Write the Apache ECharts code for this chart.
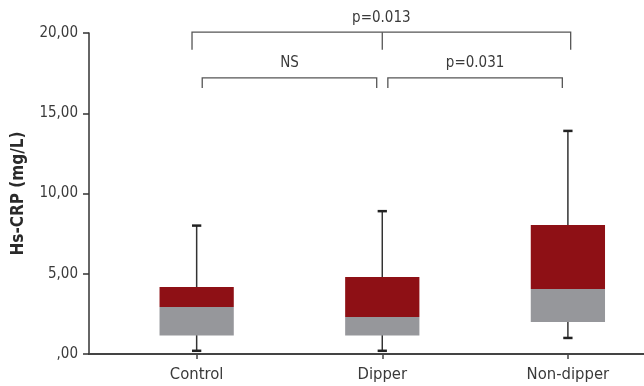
<!DOCTYPE html>
<html>
<head>
<meta charset="utf-8">
<script src="https://cdn.jsdelivr.net/npm/echarts@6/dist/echarts.min.js"></script>
<style>html,body{margin:0;padding:0;background:#fff}#c{width:644px;height:386px}</style>
</head>
<body>
<div id="c"></div>
<script>
var categories = ['Control', 'Dipper', 'Non-dipper'];
var positions = [1, 2, 3];
var whiskerLow = [0.2, 0.2, 1.0];
var q1 = [1.15, 1.15, 2.0];
var median = [2.93, 2.3, 4.05];
var q3 = [4.17, 4.8, 8.03];
var whiskerHigh = [8.0, 8.9, 13.9];
var yTicks = [0, 5, 10, 15, 20];

// significance brackets, in data units
var bracketFrom = [0.975, 1.03, 2.03];
var bracketTo = [3.015, 1.97, 2.97];
var bracketY = [20.05, 17.2, 17.2];
var bracketEnd = [18.95, 16.57, 16.57];
var bracketMid = [2.0, null, null];
var bracketLabel = ['p=0.013', 'NS', 'p=0.031'];
var bracketLabelY = [20.93, 18.13, 18.13];

var FONT = "'DejaVu Sans Condensed', 'DejaVu Sans', sans-serif";
var RED = '#8e1015';
var GRAY = '#96979b';

var boxData = positions.map(function (p, i) {
  return [p, whiskerLow[i], q1[i], median[i], q3[i], whiskerHigh[i]];
});
var bracketData = bracketLabel.map(function (l, i) { return [i]; });

var chart = echarts.init(document.getElementById('c'), null, {renderer: 'canvas'});
chart.setOption({
  animation: false,
  grid: {left: 89, right: 0, top: 33, bottom: 32, outerBoundsMode: 'none', containLabel: false},
  xAxis: {
    type: 'value', min: 0.42, max: 3.41,
    splitLine: {show: false},
    axisLine: {show: true, lineStyle: {color: '#444', width: 2}},
    axisTick: {show: true, customValues: positions, length: 5, lineStyle: {color: '#444', width: 1.5}},
    axisLabel: {
      customValues: positions, margin: 12, color: '#3a3a3a', fontSize: 16.5, fontFamily: FONT,
      formatter: function (v) { return categories[Math.round(v) - 1] || ''; }
    }
  },
  yAxis: {
    type: 'value', min: 0, max: 20, interval: 5,
    name: 'Hs-CRP (mg/L)', nameLocation: 'middle', nameGap: 62,
    nameTextStyle: {fontSize: 17, fontWeight: 'bold', fontFamily: FONT, color: '#2a2a2a'},
    splitLine: {show: false},
    axisLine: {show: true, lineStyle: {color: '#333', width: 1.5}},
    axisTick: {show: true, inside: false, length: 6, lineStyle: {color: '#333', width: 1.5}},
    axisLabel: {
      margin: 11, color: '#3a3a3a', fontSize: 15, fontFamily: FONT,
      formatter: function (v) { return v === 0 ? ',00' : v.toFixed(2).replace('.', ','); }
    }
  },
  series: [
    {
      type: 'custom',
      data: boxData,
      encode: {x: 0, y: [1, 2, 3, 4, 5]},
      renderItem: function (params, api) {
        var x = api.value(0);
        var lo = api.coord([x, api.value(1)]);
        var a = api.coord([x, api.value(2)]);
        var m = api.coord([x, api.value(3)]);
        var b = api.coord([x, api.value(4)]);
        var hi = api.coord([x, api.value(5)]);
        var left = api.coord([x - 0.2, 0])[0];
        var right = api.coord([x + 0.2, 0])[0];
        var capL = api.coord([x - 0.025, 0])[0];
        var capR = api.coord([x + 0.025, 0])[0];
        return {
          type: 'group',
          children: [
            {type: 'line', shape: {x1: lo[0], y1: lo[1], x2: hi[0], y2: hi[1]}, style: {stroke: '#333', lineWidth: 1.5}},
            {type: 'line', shape: {x1: capL, y1: lo[1], x2: capR, y2: lo[1]}, style: {stroke: '#222', lineWidth: 2.5}},
            {type: 'line', shape: {x1: capL, y1: hi[1], x2: capR, y2: hi[1]}, style: {stroke: '#222', lineWidth: 2.5}},
            {type: 'rect', shape: {x: left, y: m[1], width: right - left, height: a[1] - m[1]}, style: {fill: GRAY}},
            {type: 'rect', shape: {x: left, y: b[1], width: right - left, height: m[1] - b[1]}, style: {fill: RED}}
          ]
        };
      }
    },
    {
      type: 'custom',
      clip: false,
      silent: true,
      data: bracketData,
      renderItem: function (params, api) {
        var i = api.value(0);
        var p1 = api.coord([bracketFrom[i], bracketEnd[i]]);
        var p2 = api.coord([bracketFrom[i], bracketY[i]]);
        var p3 = api.coord([bracketTo[i], bracketY[i]]);
        var p4 = api.coord([bracketTo[i], bracketEnd[i]]);
        var children = [
          {type: 'polyline', shape: {points: [p1, p2, p3, p4]}, style: {stroke: '#555', lineWidth: 1.3, fill: null}}
        ];
        if (bracketMid[i] != null) {
          var m1 = api.coord([bracketMid[i], bracketY[i]]);
          var m2 = api.coord([bracketMid[i], bracketEnd[i]]);
          children.push({type: 'line', shape: {x1: m1[0], y1: m1[1], x2: m2[0], y2: m2[1]}, style: {stroke: '#555', lineWidth: 1.3}});
        }
        var t = api.coord([(bracketFrom[i] + bracketTo[i]) / 2, bracketLabelY[i]]);
        children.push({
          type: 'text', x: t[0], y: t[1],
          style: {text: bracketLabel[i], fill: '#3a3a3a', fontSize: 15, fontFamily: FONT, align: 'center', verticalAlign: 'middle'}
        });
        return {type: 'group', children: children};
      }
    }
  ]
});
</script>
</body>
</html>
